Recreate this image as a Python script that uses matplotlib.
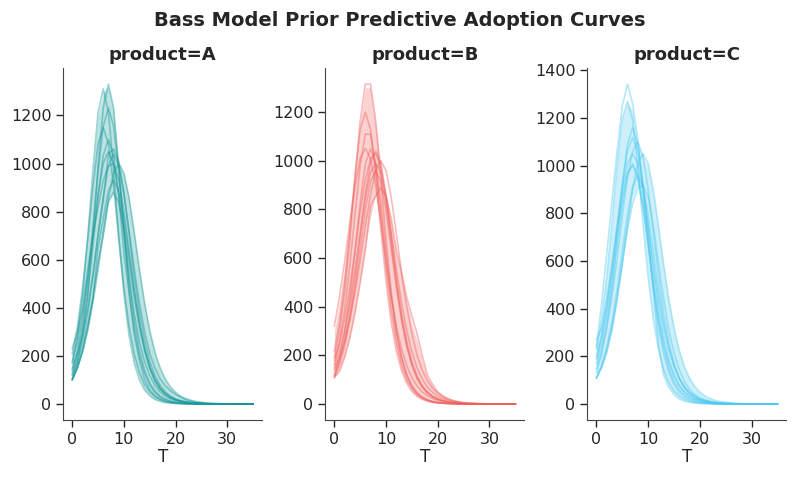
import numpy as np
import matplotlib.pyplot as plt

# time index (periods)
T = list(range(36))

products = ["A", "B", "C"]
colors = ["#15989a", "#f05f5c", "#4cc9f0"]

# prior predictive sample curves
lines_a = [
    [101, 173, 287, 450, 705, 987, 1232, 1330, 1232, 987, 720, 463, 287, 180, 101, 59, 34, 20,
     11, 6, 4, 2, 1, 1, 0, 0, 0, 0, 0, 0, 0, 0, 0, 0, 0, 0],
    [170, 283, 456, 694, 972, 1213, 1310, 1213, 972, 694, 456, 283, 170, 100, 58, 34, 19, 11,
     6, 4, 2, 1, 0, 0, 0, 0, 0, 0, 0, 0, 0, 0, 0, 0, 0, 0],
    [140, 223, 344, 517, 734, 967, 1156, 1230, 1156, 967, 734, 517, 344, 223, 140, 87, 54, 33,
     20, 12, 7, 5, 3, 2, 1, 0, 0, 0, 0, 0, 0, 0, 0, 0, 0, 0],
    [208, 322, 483, 687, 904, 1081, 1150, 1081, 904, 687, 483, 322, 208, 131, 81, 50, 31, 19,
     11, 7, 4, 3, 2, 1, 0, 0, 0, 0, 0, 0, 0, 0, 0, 0, 0, 0],
    [119, 178, 264, 381, 531, 706, 850, 1040, 1060, 1010, 879, 706, 531, 381, 264, 178, 119, 78,
     51, 33, 21, 14, 9, 6, 4, 2, 2, 1, 1, 0, 0, 0, 0, 0, 0, 0],
    [176, 261, 377, 526, 699, 870, 1001, 1050, 1001, 870, 699, 526, 377, 261, 176, 118, 77, 50,
     33, 21, 14, 9, 6, 4, 2, 2, 1, 0, 0, 0, 0, 0, 0, 0, 0, 0],
    [104, 156, 232, 334, 440, 650, 771, 886, 930, 886, 771, 619, 466, 334, 232, 156, 104, 68,
     45, 29, 19, 12, 8, 5, 3, 2, 1, 0, 0, 0, 0, 0, 0, 0, 0, 0],
    [99, 148, 219, 316, 441, 586, 700, 839, 880, 839, 730, 586, 441, 316, 219, 148, 99, 65,
     42, 27, 18, 12, 7, 5, 3, 2, 1, 0, 0, 0, 0, 0, 0, 0, 0, 0],
    [125, 199, 308, 462, 657, 865, 1034, 1100, 1034, 865, 630, 462, 308, 199, 125, 78, 48, 29,
     18, 11, 7, 4, 2, 1, 0, 0, 0, 0, 0, 0, 0, 0, 0, 0, 0, 0],
    [104, 151, 216, 305, 420, 559, 712, 856, 961, 1000, 961, 856, 712, 559, 420, 305, 216, 151,
     104, 71, 48, 32, 22, 15, 10, 7, 4, 3, 2, 1, 1, 0, 0, 0, 0, 0],
    [150, 210, 290, 400, 540, 700, 860, 990, 1040, 990, 870, 720, 560, 420, 300, 210, 150, 105,
     75, 55, 40, 28, 18, 12, 8, 5, 3, 2, 1, 1, 0, 0, 0, 0, 0, 0],
    [230, 300, 400, 560, 700, 820, 930, 990, 1000, 930, 800, 640, 480, 340, 230, 150, 95, 60,
     40, 26, 17, 11, 7, 4, 3, 2, 1, 0, 0, 0, 0, 0, 0, 0, 0, 0],
]
lines_b = [
    [192, 302, 461, 674, 925, 1164, 1315, 1315, 1164, 925, 674, 461, 302, 192, 120, 74, 45, 28,
     17, 10, 6, 4, 2, 1, 0, 0, 0, 0, 0, 0, 0, 0, 0, 0, 0, 0],
    [217, 336, 504, 716, 943, 1128, 1200, 1128, 943, 716, 504, 336, 217, 137, 85, 52, 32, 19,
     12, 7, 4, 3, 2, 1, 0, 0, 0, 0, 0, 0, 0, 0, 0, 0, 0, 0],
    [162, 255, 389, 569, 780, 982, 1110, 1110, 982, 780, 569, 389, 255, 162, 101, 63, 38, 24,
     14, 9, 5, 3, 2, 1, 0, 0, 0, 0, 0, 0, 0, 0, 0, 0, 0, 0],
    [116, 175, 259, 373, 521, 693, 862, 991, 1040, 991, 862, 693, 521, 373, 259, 175, 116, 76,
     50, 32, 21, 14, 9, 6, 4, 2, 1, 1, 0, 0, 0, 0, 0, 0, 0, 0],
    [320, 441, 587, 747, 899, 1009, 1050, 1009, 899, 747, 587, 441, 320, 227, 158, 109, 74, 50,
     34, 23, 15, 10, 7, 5, 3, 2, 1, 1, 0, 0, 0, 0, 0, 0, 0, 0],
    [149, 214, 302, 416, 553, 704, 847, 951, 990, 951, 847, 704, 553, 416, 302, 214, 149, 103,
     70, 48, 32, 22, 15, 10, 7, 4, 3, 2, 1, 1, 0, 0, 0, 0, 0, 0],
    [110, 134, 192, 271, 374, 498, 633, 814, 855, 890, 855, 762, 633, 540, 440, 360, 290, 200,
     120, 80, 50, 33, 22, 14, 9, 6, 4, 3, 2, 1, 0, 0, 0, 0, 0, 0],
    [120, 190, 294, 441, 627, 825, 987, 1050, 987, 825, 627, 441, 294, 190, 120, 74, 46, 28,
     17, 10, 6, 4, 2, 1, 0, 0, 0, 0, 0, 0, 0, 0, 0, 0, 0, 0],
    [108, 161, 239, 345, 481, 639, 796, 915, 960, 915, 796, 639, 481, 345, 239, 161, 108, 70,
     46, 30, 19, 13, 8, 5, 3, 2, 1, 0, 0, 0, 0, 0, 0, 0, 0, 0],
    [180, 250, 350, 480, 630, 790, 920, 1010, 1030, 970, 830, 660, 490, 350, 240, 160, 105, 70,
     46, 30, 20, 13, 8, 5, 3, 2, 1, 0, 0, 0, 0, 0, 0, 0, 0, 0],
    [140, 190, 260, 350, 460, 590, 730, 860, 960, 1000, 960, 850, 700, 540, 400, 290, 200, 140,
     95, 65, 45, 30, 20, 13, 8, 5, 3, 2, 1, 0, 0, 0, 0, 0, 0, 0],
]
lines_c = [
    [240, 420, 630, 850, 1060, 1250, 1342, 1260, 1110, 900, 700, 480, 250, 120, 70, 40, 22, 12,
     7, 4, 2, 1, 1, 0, 0, 0, 0, 0, 0, 0, 0, 0, 0, 0, 0, 0],
    [230, 356, 533, 758, 998, 1194, 1270, 1194, 998, 758, 533, 356, 230, 145, 90, 55, 34, 21,
     13, 8, 5, 3, 2, 1, 0, 0, 0, 0, 0, 0, 0, 0, 0, 0, 0, 0],
    [132, 210, 325, 487, 693, 912, 1090, 1160, 1090, 912, 693, 487, 325, 210, 132, 82, 50, 31,
     19, 11, 7, 4, 3, 2, 1, 0, 0, 0, 0, 0, 0, 0, 0, 0, 0, 0],
    [188, 278, 401, 560, 744, 926, 1064, 1117, 1064, 926, 744, 560, 401, 278, 188, 125, 82, 54,
     35, 23, 15, 10, 6, 4, 3, 2, 1, 0, 0, 0, 0, 0, 0, 0, 0, 0],
    [109, 158, 227, 320, 441, 587, 747, 899, 1009, 1050, 1009, 899, 747, 587, 441, 320, 227, 158,
     109, 74, 50, 34, 23, 15, 10, 7, 5, 3, 2, 1, 1, 0, 0, 0, 0, 0],
    [169, 251, 362, 505, 671, 836, 961, 1008, 961, 836, 671, 505, 362, 251, 169, 113, 74, 48,
     32, 20, 13, 9, 6, 4, 2, 2, 1, 0, 0, 0, 0, 0, 0, 0, 0, 0],
    [107, 161, 239, 344, 480, 638, 794, 913, 958, 913, 794, 638, 480, 344, 239, 161, 107, 70,
     46, 30, 19, 13, 8, 5, 3, 2, 1, 0, 0, 0, 0, 0, 0, 0, 0, 0],
    [112, 150, 215, 310, 440, 590, 735, 840, 905, 920, 870, 750, 590, 440, 310, 215, 145, 95,
     62, 40, 26, 17, 11, 7, 4, 3, 2, 1, 0, 0, 0, 0, 0, 0, 0, 0],
    [270, 320, 441, 587, 747, 899, 1009, 1050, 1009, 899, 747, 587, 441, 320, 227, 158, 109, 74,
     50, 34, 23, 15, 10, 7, 5, 3, 2, 1, 1, 0, 0, 0, 0, 0, 0, 0],
    [150, 220, 320, 450, 610, 790, 950, 1060, 1100, 1040, 900, 720, 540, 380, 260, 170, 110, 70,
     45, 29, 18, 11, 7, 4, 3, 2, 1, 0, 0, 0, 0, 0, 0, 0, 0, 0],
    [200, 290, 410, 560, 720, 870, 970, 1000, 950, 830, 670, 500, 350, 235, 150, 95, 60, 38,
     24, 15, 9, 6, 4, 2, 1, 0, 0, 0, 0, 0, 0, 0, 0, 0, 0, 0],
]

# HDI band (lower / upper) per product
band_a_lo = [100, 150, 222, 318, 440, 585, 735, 845, 885, 690, 460, 290, 175, 105, 60, 36, 20, 12,
             7, 4, 2, 1, 1, 0, 0, 0, 0, 0, 0, 0, 0, 0, 0, 0, 0, 0]
band_a_hi = [215, 318, 478, 690, 960, 1200, 1295, 1320, 1220, 995, 955, 855, 710, 555, 415, 300, 210, 145,
             100, 68, 46, 32, 22, 15, 10, 7, 4, 3, 2, 1, 1, 0, 0, 0, 0, 0]
band_b_lo = [110, 140, 195, 275, 378, 505, 640, 770, 860, 720, 505, 340, 220, 140, 88, 54, 33, 20,
             12, 7, 4, 3, 2, 1, 0, 0, 0, 0, 0, 0, 0, 0, 0, 0, 0, 0]
band_b_hi = [300, 420, 560, 740, 940, 1150, 1300, 1300, 1150, 985, 860, 755, 620, 520, 420, 330, 260, 180,
             110, 75, 48, 32, 21, 14, 9, 6, 4, 3, 2, 1, 0, 0, 0, 0, 0, 0]
band_c_lo = [110, 155, 220, 315, 441, 588, 740, 870, 920, 780, 540, 360, 232, 125, 75, 45, 25, 14,
             8, 5, 3, 2, 1, 1, 0, 0, 0, 0, 0, 0, 0, 0, 0, 0, 0, 0]
band_c_hi = [250, 360, 540, 760, 1000, 1195, 1265, 1230, 1090, 1040, 990, 880, 730, 575, 430, 310, 220, 150,
             105, 70, 48, 32, 22, 15, 10, 7, 5, 3, 2, 1, 0, 0, 0, 0, 0, 0]

all_lines = [lines_a, lines_b, lines_c]
bands = [(band_a_lo, band_a_hi), (band_b_lo, band_b_hi), (band_c_lo, band_c_hi)]

plt.rcParams['font.family'] = ['DejaVu Sans']
fig, axes = plt.subplots(1, 3, figsize=(8, 4.8), dpi=100)
fig.subplots_adjust(left=0.079, right=0.983, top=0.858, bottom=0.125, wspace=0.317)

for ax, prod, col, lines, (lo, hi) in zip(axes, products, colors, all_lines, bands):
    ax.fill_between(T, lo, hi, color=col, alpha=0.28, linewidth=0)
    for y in lines:
        ax.plot(T, y, color=col, alpha=0.42, lw=1.2)
    ax.set_title(f"product={prod}", fontsize=13, fontweight="bold", color="#262626")
    ax.set_xlabel("T", fontsize=12, color="#262626", labelpad=1)
    ax.set_xticks([0, 10, 20, 30])
    ax.tick_params(labelsize=11.5, colors="#262626", length=5, width=1)
    for s in ["top", "right"]:
        ax.spines[s].set_visible(False)
    for s in ["left", "bottom"]:
        ax.spines[s].set_color("#444444")

axes[2].set_yticks([0, 200, 400, 600, 800, 1000, 1200, 1400])

fig.suptitle("Bass Model Prior Predictive Adoption Curves", fontsize=14, fontweight="bold",
             color="#262626", y=0.978)

fig.savefig("out.png", dpi=100)
